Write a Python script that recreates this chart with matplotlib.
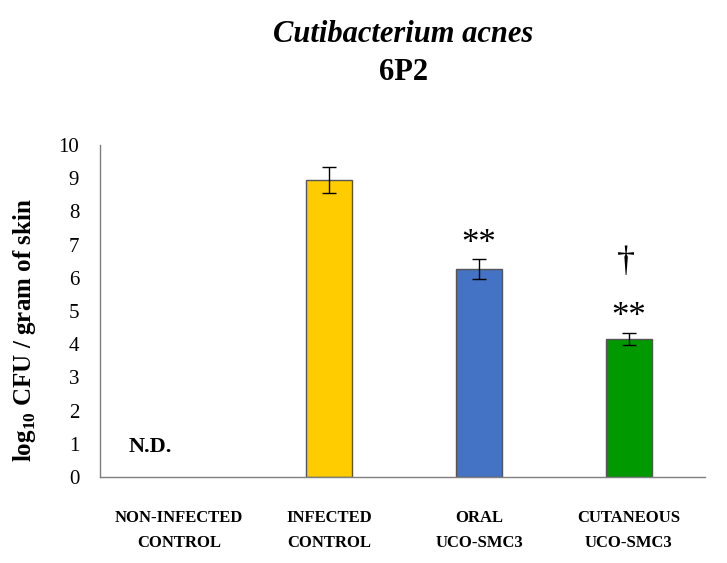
import numpy as np
import matplotlib.pyplot as plt

categories = ["NON-INFECTED\nCONTROL", "INFECTED\nCONTROL", "ORAL\nUCO-SMC3", "CUTANEOUS\nUCO-SMC3"]
means = [0.0, 8.95, 6.26, 4.16]
errors = [0.0, 0.40, 0.31, 0.19]
colors = ["#FFFFFF", "#FFCC00", "#4472C4", "#009900"]
yticks = list(range(0, 11))

plt.rcParams['font.family'] = ['Liberation Serif', 'DejaVu Serif']
plt.rcParams['mathtext.fontset'] = 'custom'
plt.rcParams['mathtext.rm'] = 'Liberation Serif:bold'
plt.rcParams['mathtext.bf'] = 'Liberation Serif:bold'

fig = plt.figure(figsize=(7.27, 5.63), dpi=100)
ax = fig.add_axes([100 / 727, 86 / 563, 605 / 727, 332 / 563])

x = np.arange(len(categories))
for i in range(len(categories)):
    if means[i] <= 0:
        continue
    ax.bar(x[i], means[i], width=0.31, color=colors[i], edgecolor='#555555', linewidth=1.0, zorder=2)
    ax.errorbar(x[i], means[i], yerr=errors[i], fmt='none', ecolor='black',
                elinewidth=1.0, capsize=5, capthick=1.0, zorder=3)

ax.set_xlim(-0.527, 3.507)
ax.set_ylim(0, 10)
ax.set_yticks(yticks)
ax.set_yticklabels([str(t) for t in yticks], fontsize=15)
ax.set_xticks(x)
ax.set_xticklabels(categories, fontsize=12, fontweight='bold', linespacing=1.7)
ax.tick_params(axis='both', length=0)
ax.tick_params(axis='x', pad=24)
ax.tick_params(axis='y', pad=15)

for s in ['top', 'right']:
    ax.spines[s].set_visible(False)
for s in ['left', 'bottom']:
    ax.spines[s].set_color('#7f7f7f')
    ax.spines[s].set_linewidth(1.0)

ax.set_ylabel(r'log$_{10}$ CFU / gram of skin', fontsize=18, fontweight='bold')
ax.yaxis.set_label_coords(-0.103, 0.443)

# annotations
ax.text(-0.19, 0.9, 'N.D.', ha='center', va='center', fontsize=16, fontweight='bold')
ax.text(2, 7.0, '**', ha='center', va='center', fontsize=25)
ax.text(3, 4.8, '**', ha='center', va='center', fontsize=25)
ax.text(2.98, 6.45, '\u2020', ha='center', va='center', fontsize=26)

fig.text(403 / 727, 1 - 35 / 563, 'Cutibacterium acnes', ha='center', va='center',
         fontsize=22, fontweight='bold', style='italic')
fig.text(403 / 727, 1 - 72 / 563, '6P2', ha='center', va='center',
         fontsize=22, fontweight='bold')

fig.savefig('out.png', dpi=100)
